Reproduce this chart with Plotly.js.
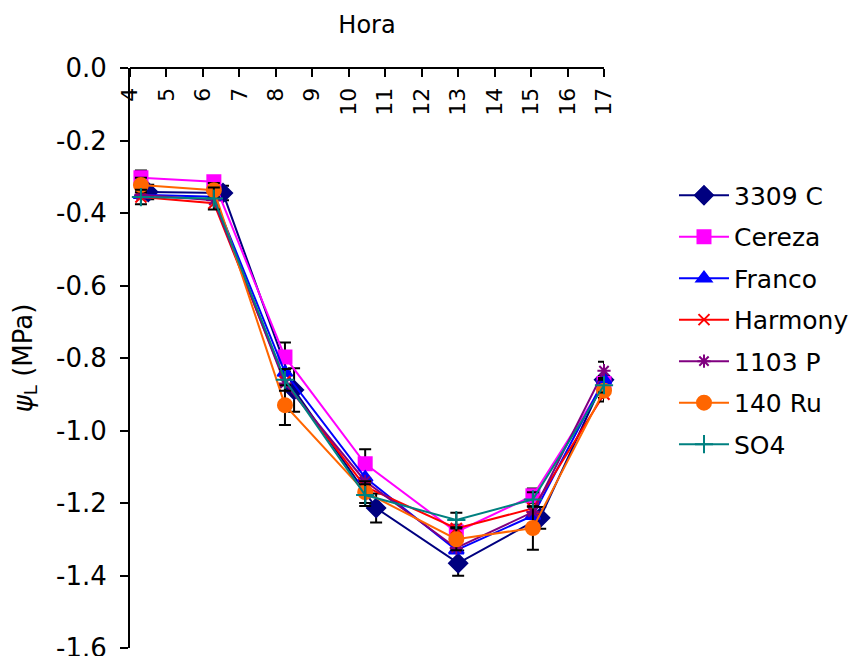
<!DOCTYPE html>
<html><head><meta charset="utf-8">
<script src="https://cdn.plot.ly/plotly-3.0.1.min.js"></script>
<style>html,body{margin:0;padding:0;background:#fff}#chart{width:851px;height:656px}</style>
</head><body><div id="chart"></div>
<script>
const seriesNames = ["3309 C","Cereza","Franco","Harmony","1103 P","140 Ru","SO4"];
const hours3309 = [4.5, 6.55, 8.5, 10.75, 13.0, 15.25, 17.0];
const hoursOther = [4.3, 6.3, 8.25, 10.45, 12.95, 15.05, 17.0];
const psi3309 = [-0.342, -0.345, -0.888, -1.214, -1.366, -1.241, -0.86];
const psiCereza = [-0.303, -0.314, -0.797, -1.092, -1.28, -1.18, -0.87];
const psiFranco = [-0.35, -0.355, -0.84, -1.13, -1.33, -1.235, -0.86];
const psiHarmony = [-0.356, -0.373, -0.865, -1.155, -1.27, -1.215, -0.9];
const psi1103 = [-0.35, -0.365, -0.87, -1.14, -1.324, -1.225, -0.835];
const psi140 = [-0.323, -0.337, -0.93, -1.17, -1.30, -1.269, -0.89];
const psiSO4 = [-0.356, -0.36, -0.86, -1.178, -1.247, -1.19, -0.875];
const err3309 = [0.02, 0.02, 0.06, 0.04, 0.035, 0.03, 0.05];
const errCereza = [0.02, 0.015, 0.04, 0.04, 0.02, 0.02, 0.02];
const err140 = [0.02, 0.02, 0.055, 0.03, 0.03, 0.06, 0.03];
const errSO4 = [0.02, 0.03, 0.03, 0.03, 0.02, 0.02, 0.02];
const yTickVals = [0, -0.2, -0.4, -0.6, -0.8, -1.0, -1.2, -1.4, -1.6];
const yTickText = ["0.0","-0.2","-0.4","-0.6","-0.8","-1.0","-1.2","-1.4","-1.6"];
const xTickVals = [4,5,6,7,8,9,10,11,12,13,14,15,16,17];

const ys = [psi3309, psiCereza, psiFranco, psiHarmony, psi1103, psi140, psiSO4];
const xs = [hours3309, hoursOther, hoursOther, hoursOther, hoursOther, hoursOther, hoursOther];
const errs = [err3309, errCereza, null, null, null, err140, errSO4];
const colors = ["#000080","#FF00FF","#0000FF","#FF0000","#800080","#FF6600","#008080"];
const symbols = ["diamond","square","triangle-up","x-thin-open","asterisk-open","circle","cross-thin-open"];
const sizes = [14, 13, 13, 11, 11, 14, 13];

const traces = seriesNames.map((n, i) => {
  const t = {
    type: "scatter", mode: "lines+markers", name: n,
    x: xs[i], y: ys[i], legendgroup: "g" + i, cliponaxis: false,
    line: {color: colors[i], width: 2},
    marker: {symbol: symbols[i], size: sizes[i], color: colors[i], line: {color: colors[i], width: 2}}
  };
  if (errs[i]) t.error_y = {type: "data", array: errs[i], visible: true, color: "#000", thickness: 2, width: 6};
  return t;
});

const font = {family: "DejaVu Sans, Verdana, sans-serif", color: "#000"};
const layout = {
  width: 851, height: 656,
  margin: {l: 130, r: 247, t: 68, b: 8, autoexpand: false},
  paper_bgcolor: "#fff", plot_bgcolor: "#fff",
  showlegend: true,
  font: Object.assign({size: 22}, font),
  title: {text: "Hora", font: Object.assign({size: 24}, font), xref: "paper", x: 0.5, xanchor: "center", yref: "container", y: 0.962, yanchor: "middle"},
  xaxis: {
    side: "bottom", anchor: "free", position: 1, range: [4, 17], tickvals: xTickVals,
    ticks: "outside", ticklen: 8, tickwidth: 2, tickcolor: "#000",
    tickangle: -90, ticklabelstandoff: 2, ticklabeloverflow: "allow",
    tickfont: Object.assign({size: 22}, font),
    showline: true, linecolor: "#000", linewidth: 2,
    showgrid: false, zeroline: false, automargin: false
  },
  yaxis: {
    domain: [0, 1], range: [-1.6, 0], tickvals: yTickVals, ticktext: yTickText,
    ticks: "outside", ticklen: 8, tickwidth: 2, tickcolor: "#000",
    ticklabelstandoff: 8, ticklabeloverflow: "allow",
    tickfont: Object.assign({size: 26}, font),
    showline: true, linecolor: "#000", linewidth: 2,
    showgrid: false, zeroline: false, automargin: false,
    title: {text: "<i>ψ</i><sub>L</sub> (MPa)", font: Object.assign({size: 26}, font), standoff: 16}
  },
  legend: {
    xref: "container", x: 0.792, xanchor: "left", y: 0.82, yanchor: "top",
    font: Object.assign({size: 25}, font),
    traceorder: "grouped", tracegroupgap: 6,
    itemwidth: 50, bgcolor: "rgba(0,0,0,0)"
  }
};
Plotly.newPlot("chart", traces, layout, {displayModeBar: false, staticPlot: true});
</script></body></html>
